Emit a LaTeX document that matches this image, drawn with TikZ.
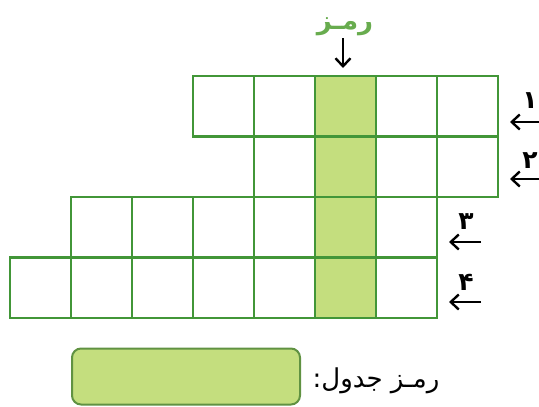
\documentclass[tikz,border=0pt]{standalone}
\usepackage{fontspec}
\TeXXeTstate=1
\newfontfamily\arabicfont[Script=Arabic]{DejaVu Sans}
\usetikzlibrary{arrows.meta}
\definecolor{gline}{RGB}{66,150,56}
\definecolor{gfill}{RGB}{196,222,126}
\definecolor{gtext}{RGB}{104,172,78}
\definecolor{boxline}{RGB}{96,146,66}
\begin{document}
\begin{tikzpicture}[x=1pt,y=-1pt,
  cell/.style={draw=gline, line width=2.4pt, minimum width=61pt, minimum height=60.5pt,
    inner sep=0pt, outer sep=0pt, anchor=north west},
  keycell/.style={cell, fill=gfill},
  arr/.style={draw=black, line width=2.2pt, -{Straight Barb[length=8pt,width=15pt,line width=2.4pt]}},
  lbl/.style={font=\arabicfont\fontsize{26}{28}\selectfont, inner sep=0pt},
  dig/.style={font=\arabicfont\bfseries\fontsize{25}{27}\selectfont, inner sep=0pt}
]
\useasboundingbox (0,0) rectangle (539,407);

% key column (column 6)
\foreach \r/\y in {1/76,2/136.5,3/197,4/257.5}
  \node[keycell] (r\r c6) at (315,\y) {};
% row 1: columns 4-8
\foreach \c in {4,5,7,8}
  \node[cell] (r1c\c) at ({10+61*(\c-1)},76) {};
% row 2: columns 5-8
\foreach \c in {5,7,8}
  \node[cell] (r2c\c) at ({10+61*(\c-1)},136.5) {};
% row 3: columns 2-7
\foreach \c in {2,3,4,5,7}
  \node[cell] (r3c\c) at ({10+61*(\c-1)},197) {};
% row 4: columns 1-7
\foreach \c in {1,2,3,4,5,7}
  \node[cell] (r4c\c) at ({10+61*(\c-1)},257.5) {};

% top label and arrow
\node[dig, text=gtext, font=\arabicfont\bfseries\fontsize{26}{28}\selectfont] (top) at (345,27) {\beginR رمـز\endR};
\coordinate (topa) at (343,38);
\draw[arr, shorten >=8pt] (topa) -- (r1c6.north -| topa);

% row labels and arrows
\node[dig] (n1) at (530,101) {\beginR ۱\endR};
\coordinate (s1) at (539,122); \coordinate (e1) at (510,122);
\draw[arr] (s1) -- (e1);
\node[dig] (n2) at (530,161) {\beginR ۲\endR};
\coordinate (s2) at (539,179); \coordinate (e2) at (510,179);
\draw[arr] (s2) -- (e2);
\node[dig] (n3) at (466,222) {\beginR ۳\endR};
\coordinate (s3) at (481,242); \coordinate (e3) at (449,242);
\draw[arr] (s3) -- (e3);
\node[dig] (n4) at (466,282) {\beginR ۴\endR};
\coordinate (s4) at (481,302); \coordinate (e4) at (449,302);
\draw[arr] (s4) -- (e4);

% bottom answer box
\node[draw=boxline, fill=gfill, line width=2pt, rounded corners=9pt,
  minimum width=228pt, minimum height=56pt, inner sep=0pt] (ans) at (186,376.5) {};
\node[lbl] (anslbl) at (376,381) {\beginR رمـز جدول:\endR};
\end{tikzpicture}
\end{document}
